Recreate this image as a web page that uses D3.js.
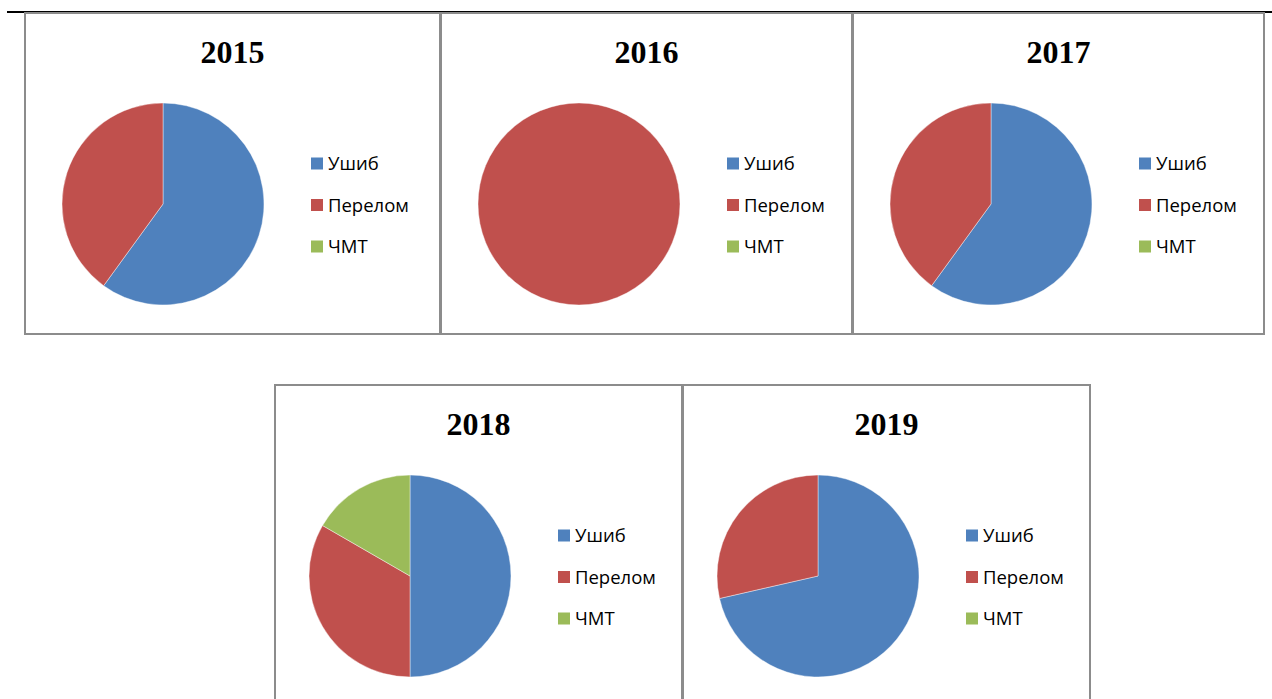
<!DOCTYPE html>
<html>
<head>
<meta charset="utf-8">
<script src="https://cdn.jsdelivr.net/npm/d3@7"></script>
<style>
  body { margin: 0; background: #fff; }
  #canvas { width: 1272px; height: 699px; }
</style>
</head>
<body>
<div id="canvas"></div>
<script>
// data
var years = ['2015', '2016', '2017', '2018', '2019'];
var categories = ['Ушиб', 'Перелом', 'ЧМТ'];
var contusion = [3, 0, 3, 3, 5];
var fracture  = [2, 1, 2, 2, 2];
var tbi       = [0, 0, 0, 1, 0];
var colors = ['#4F81BD', '#C0504D', '#9BBB59'];

// panel boxes: left, top, right, bottom
var panels = [
  [25, 13, 440, 334],
  [441, 13, 852, 334],
  [853, 13, 1264, 334],
  [275, 385, 682, 710],
  [683, 385, 1090, 710]
];

var svg = d3.select('#canvas').append('svg')
  .attr('width', 1272)
  .attr('height', 699);

// document rule on top
svg.append('line')
  .attr('x1', 7).attr('x2', 1272)
  .attr('y1', 12).attr('y2', 12)
  .attr('stroke', '#000')
  .attr('stroke-width', 2);

var pie = d3.pie().sort(null).startAngle(0).endAngle(2 * Math.PI);
var arc = d3.arc().innerRadius(0).outerRadius(101);
var color = d3.scaleOrdinal().domain(categories).range(colors);

years.forEach(function (year, i) {
  var p = panels[i];
  var g = svg.append('g');

  g.append('rect')
    .attr('x', p[0]).attr('y', p[1])
    .attr('width', p[2] - p[0]).attr('height', p[3] - p[1])
    .attr('fill', '#fff')
    .attr('stroke', '#8c8c8c')
    .attr('stroke-width', 2);

  var offset = i < 3 ? 138 : 135;
  var cx = p[0] + offset;
  var cy = p[1] + 191;

  g.append('text')
    .attr('x', (p[0] + p[2]) / 2)
    .attr('y', p[1] + 50)
    .attr('text-anchor', 'middle')
    .attr('font-family', '"Liberation Serif", "Times New Roman", serif')
    .attr('font-weight', 'bold')
    .attr('font-size', 32)
    .text(year);

  var values = [contusion[i], fracture[i], tbi[i]];
  var slices = pie(values);

  g.append('g')
    .attr('transform', 'translate(' + cx + ',' + cy + ')')
    .selectAll('path').data(slices)
    .enter().append('path')
    .attr('d', arc)
    .attr('fill', function (d, k) { return color(categories[k]); })
    .attr('stroke', function (d) { return d.value > 0 ? '#fff' : 'none'; })
    .attr('stroke-width', 0.6)
    .attr('stroke-opacity', 0.7);

  // legend
  var lx = cx + 148;
  var leg = g.selectAll('g.leg').data(categories)
    .enter().append('g')
    .attr('transform', function (d, k) {
      return 'translate(' + lx + ',' + (cy - 41.5 + k * 41.5 + 1) + ')';
    });
  leg.append('rect')
    .attr('x', 0).attr('y', -6)
    .attr('width', 12).attr('height', 12)
    .attr('fill', function (d) { return color(d); });
  leg.append('text')
    .attr('x', 17).attr('y', 6.5)
    .attr('font-family', '"Open Sans", "Noto Sans", sans-serif')
    .attr('font-size', 18.5)
    .attr('fill', '#000')
    .text(function (d) { return d; });
});
</script>
</body>
</html>
